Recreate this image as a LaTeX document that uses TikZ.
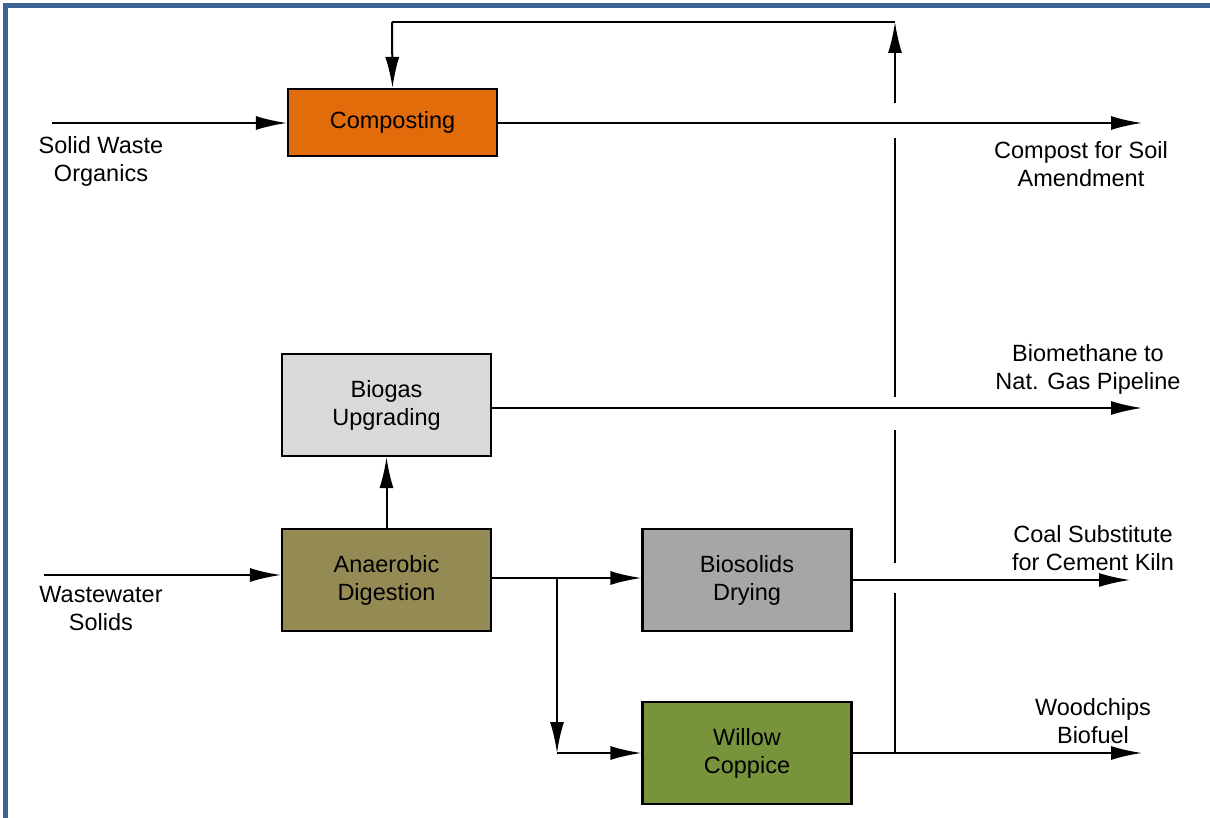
\documentclass[tikz,border=0pt]{standalone}
\usepackage{fontspec}
\setmainfont{Liberation Sans}
\usetikzlibrary{positioning,arrows.meta}

\definecolor{frameblue}{RGB}{59,98,145}
\definecolor{compostorange}{RGB}{227,108,10}
\definecolor{upgradegray}{RGB}{217,217,217}
\definecolor{digestolive}{RGB}{148,138,84}
\definecolor{dryinggray}{RGB}{166,166,166}
\definecolor{willowgreen}{RGB}{119,147,60}

\tikzset{
    procbox/.style={draw=black, line width=2.2pt, minimum width=209pt, minimum height=102pt,
        align=center, inner sep=0pt, font=\fontsize{23.5}{28}\selectfont},
    flowlabel/.style={align=center, inner sep=0pt, font=\fontsize{23.5}{28}\selectfont},
    pipe/.style={line width=2pt},
    flow/.style={pipe, -{Latex[length=31pt,width=14pt]}}
}

\begin{document}
\begin{tikzpicture}[x=1pt, y=-1pt]
    \useasboundingbox (0,0) rectangle (1210,818);
    \fill[frameblue] (2.5,3.5) rectangle (1210,8.5);
    \fill[frameblue] (2.5,3.5) rectangle (7.5,818);

    % process boxes
    \node[procbox, fill=compostorange, minimum height=67pt] (comp) at (392.5,122.5) {Composting};
    \node[procbox, fill=upgradegray] (upgr) at (386.5,405) {Biogas\\Upgrading};
    \node[procbox, fill=digestolive] (digest) at (386.5,580) {Anaerobic\\Digestion};
    \node[procbox, fill=dryinggray] (drying) at (747,580) {Biosolids\\Drying};
    \node[procbox, fill=willowgreen] (willow) at (747,753) {Willow\\Coppice};

    % inputs and outputs
    \coordinate (sw_in) at (52,123);
    \coordinate (ww_in) at (44,575);
    \coordinate (comp_out) at (1142,123);
    \coordinate (upgr_out) at (1142,408);
    \coordinate (dry_out) at (1130,580);
    \coordinate (wil_out) at (1142,753);

    \node[flowlabel] (swlab) at (101,161) {Solid Waste\\Organics};
    \node[flowlabel] (wwlab) at (101,609) {Wastewater\\Solids};
    \node[flowlabel] (complab) at (1081,164) {Compost for Soil\\Amendment};
    \node[flowlabel] (upgrlab) at (1088,369) {Biomethane to\\Nat. Gas Pipeline};
    \node[flowlabel] (drylab) at (1093,548) {Coal Substitute\\for Cement Kiln};
    \node[flowlabel] (willab) at (1093,721) {Woodchips\\Biofuel};

    \draw[flow] (sw_in) -- (sw_in -| comp.west);
    \draw[flow] (comp.east |- comp_out) -- (comp_out);
    \draw[flow] (ww_in) -- (ww_in -| digest.west);
    \draw[flow] (digest.north) -- (upgr.south);
    \draw[flow] (upgr.east |- upgr_out) -- (upgr_out);
    \draw[flow] (drying.east |- dry_out) -- (dry_out);
    \draw[flow] (willow.east) -- (wil_out);

    % split after digestion
    \coordinate (split) at (557,578);
    \coordinate (split_low) at (557,753);
    \draw[pipe] (digest.east |- split) -- (split);
    \draw[flow] (split) -- (split -| drying.west);
    \draw[flow] (split) -- (split_low);
    \draw[flow] (split_low) -- (willow.west);

    % return line to composting, broken where it crosses
    \coordinate (riser) at (895,753);
    \coordinate (ret_top) at (895,22);
    \draw[pipe] (riser) -- (895,593);
    \draw[pipe] (895,563) -- (895,430);
    \draw[pipe] (895,397) -- (895,138);
    \draw[flow] (895,103) -- (ret_top);
    \draw[pipe] (ret_top) -- (392,22);
    \draw[flow] (392,22) -- (comp.north);
\end{tikzpicture}
\end{document}
